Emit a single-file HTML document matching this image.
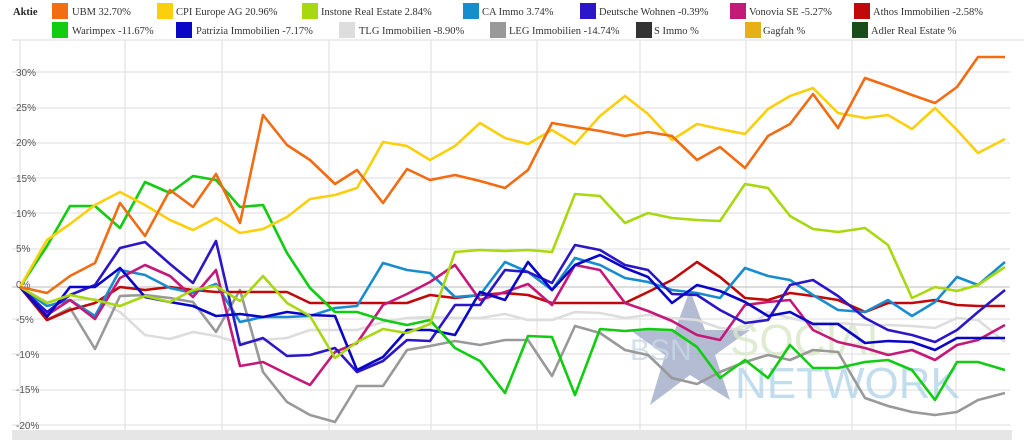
<!DOCTYPE html>
<html><head><meta charset="utf-8"><style>
body{margin:0;width:1024px;height:440px;background:#fff;overflow:hidden;font-family:"Liberation Sans",sans-serif}
</style></head><body>
<svg width="1024" height="440" xmlns="http://www.w3.org/2000/svg" font-family="Liberation Sans, sans-serif">
<g font-size="10.5" fill="#333" font-family="Liberation Serif, serif" xml:space="preserve">
<text x="13" y="15" font-weight="bold" fill="#222">Aktie</text>
<rect x="52" y="3" width="16" height="16" fill="#f26c13"/><text x="72" y="15">UBM  32.70%</text>
<rect x="157" y="3" width="16" height="16" fill="#fccf0d"/><text x="176" y="15">CPI Europe AG  20.96%</text>
<rect x="302" y="3" width="16" height="16" fill="#a8d80f"/><text x="321" y="15">Instone Real Estate  2.84%</text>
<rect x="463" y="3" width="16" height="16" fill="#178dcf"/><text x="482" y="15">CA Immo  3.74%</text>
<rect x="580" y="3" width="16" height="16" fill="#2b17c7"/><text x="599" y="15">Deutsche Wohnen  -0.39%</text>
<rect x="730" y="3" width="16" height="16" fill="#c5197a"/><text x="749" y="15">Vonovia SE  -5.27%</text>
<rect x="854" y="3" width="16" height="16" fill="#c10909"/><text x="873" y="15">Athos Immobilien  -2.58%</text>
<rect x="52" y="22" width="16" height="16" fill="#12cc12"/><text x="72" y="34">Warimpex  -11.67%</text>
<rect x="176" y="22" width="16" height="16" fill="#0a06c8"/><text x="196" y="34">Patrizia Immobilien  -7.17%</text>
<rect x="339" y="22" width="16" height="16" fill="#dddddd"/><text x="359" y="34">TLG Immobilien  -8.90%</text>
<rect x="490" y="22" width="16" height="16" fill="#999999"/><text x="509" y="34">LEG Immobilien  -14.74%</text>
<rect x="636" y="22" width="16" height="16" fill="#333333"/><text x="654" y="34">S Immo  %</text>
<rect x="745" y="22" width="16" height="16" fill="#e8b018"/><text x="763" y="34">Gagfah  %</text>
<rect x="852" y="22" width="16" height="16" fill="#1b4d1b"/><text x="871" y="34">Adler Real Estate  %</text>
</g>
<line x1="12" y1="40" x2="1024" y2="40" stroke="#ddd"/>
<g stroke="#ddd" stroke-width="1">
<line x1="20" y1="40" x2="20" y2="430"/><line x1="125" y1="40" x2="125" y2="430"/><line x1="222" y1="40" x2="222" y2="430"/><line x1="329" y1="40" x2="329" y2="430"/><line x1="431" y1="40" x2="431" y2="430"/><line x1="537" y1="40" x2="537" y2="430"/><line x1="640" y1="40" x2="640" y2="430"/><line x1="746" y1="40" x2="746" y2="430"/><line x1="852" y1="40" x2="852" y2="430"/><line x1="956" y1="40" x2="956" y2="430"/>
<line x1="12" y1="72" x2="1010" y2="72"/><line x1="12" y1="108" x2="1010" y2="108"/><line x1="12" y1="143" x2="1010" y2="143"/><line x1="12" y1="178" x2="1010" y2="178"/><line x1="12" y1="213" x2="1010" y2="213"/><line x1="12" y1="249" x2="1010" y2="249"/><line x1="12" y1="287" x2="1010" y2="287" stroke="#bbb"/><line x1="12" y1="319" x2="1010" y2="319"/><line x1="12" y1="354" x2="1010" y2="354"/><line x1="12" y1="390" x2="1010" y2="390"/><line x1="12" y1="425" x2="1010" y2="425"/>
</g>
<g font-size="10" fill="#555">
<text x="16" y="76">30%</text><text x="16" y="111">25%</text><text x="16" y="146">20%</text><text x="16" y="182">15%</text><text x="16" y="217">10%</text><text x="16" y="252">5%</text><text x="16" y="288">0%</text><text x="16" y="323">-5%</text><text x="16" y="358">-10%</text><text x="16" y="393">-15%</text><text x="16" y="429">-20%</text>
</g>
<rect x="12" y="430" width="1000" height="10" fill="#e6e6e6"/>
<polygon points="690,290 705,330 750,330 715,355 730,400 690,375 650,405 665,355 630,330 675,330" fill="#9aa6c4" opacity="0.75"/>
<text x="630" y="360" font-size="30" fill="#c8d8e8" opacity="0.8">BSN</text>
<text x="730" y="355" font-size="44" fill="#d8e8c8" opacity="0.8">SOCIAL</text>
<text x="735" y="398" font-size="44" fill="#a8d0e8" opacity="0.7">NETWORK</text>
<g fill="none" stroke-width="2.6" stroke-linejoin="round">
<polyline stroke="#dddddd" points="20,287 47,302 70,300 95,299 120,312 145,335 170,339 193,332 216,336 240,343 263,340 287,338 310,330 335,330 357,330 383,322 407,318 430,317 455,318 480,318 505,314 528,320 552,320 575,312 600,313 625,318 648,315 672,318 697,320 720,328 745,330 768,312 790,318 813,323 838,323 865,325 888,325 912,326 935,328 957,318 978,320 1005,342"/>
<polyline stroke="#999999" points="20,287 47,320 70,308 95,349 120,296 145,295 170,298 193,302 216,332 240,290 263,372 287,402 310,415 335,422 357,386 383,386 407,350 430,346 455,341 480,345 505,340 528,340 552,376 575,326 600,333 625,350 648,355 672,378 697,384 720,372 745,362 768,355 790,360 813,350 838,352 865,398 888,406 912,412 935,415 957,412 978,400 1005,393"/>
<polyline stroke="#c10909" points="20,287 47,320 70,310 95,303 120,287 145,290 170,287 193,290 216,292 240,292 263,292 287,292 310,303 335,303 357,303 383,303 407,303 430,295 455,298 480,295 505,293 528,295 552,303 575,303 600,303 625,303 648,292 672,280 697,262 720,277 745,298 768,300 790,293 813,296 838,300 865,312 888,303 912,303 935,300 957,305 978,306 1005,306"/>
<polyline stroke="#178dcf" points="20,287 47,306 70,300 95,316 120,270 145,275 170,288 193,293 216,284 240,322 263,317 287,317 310,316 335,308 357,306 383,263 407,270 430,273 455,297 480,295 505,262 528,272 552,290 575,258 600,265 625,278 648,282 672,290 697,293 720,298 745,268 768,276 790,280 813,295 838,310 865,312 888,300 912,316 935,302 957,277 978,285 1005,262"/>
<polyline stroke="#c5197a" points="20,287 47,315 70,300 95,319 120,278 145,265 170,276 193,297 216,270 240,366 263,362 287,374 310,385 335,352 357,343 383,305 407,294 430,282 455,265 480,300 505,292 528,284 552,305 575,265 600,270 625,303 648,311 672,321 697,335 720,340 745,305 768,302 790,300 813,330 838,342 865,348 888,355 912,350 935,360 957,345 978,340 1005,325"/>
<polyline stroke="#2b17c7" points="20,287 47,312 70,295 95,285 120,248 145,242 170,264 193,283 216,241 240,345 263,338 287,356 310,355 335,348 357,372 383,361 407,340 430,341 455,305 480,305 505,270 528,272 552,283 575,245 600,250 625,265 648,270 672,294 697,295 720,310 745,323 768,320 790,285 813,280 838,296 865,318 888,330 912,335 935,342 957,330 978,312 1005,290"/>
<polyline stroke="#0a06c8" points="20,287 47,317 70,287 95,287 120,268 145,297 170,302 193,306 216,316 240,314 263,317 287,312 310,315 335,316 357,370 383,357 407,330 430,330 455,335 480,292 505,300 528,262 552,290 575,265 600,255 625,268 648,277 672,303 697,285 720,291 745,302 768,316 790,312 813,324 838,324 865,343 888,341 912,342 935,350 957,338 978,338 1005,338"/>
<polyline stroke="#12cc12" points="20,287 47,246 70,206 95,206 120,228 145,182 170,193 193,176 216,180 240,207 263,205 287,253 310,288 335,312 357,312 383,320 407,325 430,320 455,348 480,361 505,393 528,336 552,337 575,395 600,329 625,331 648,329 672,330 697,347 720,378 745,360 768,378 790,345 813,368 838,368 865,362 888,360 912,370 935,400 957,362 978,362 1005,370"/>
<polyline stroke="#a8d80f" points="20,287 47,303 70,295 95,300 120,306 145,296 170,302 193,290 216,286 240,301 263,276 287,303 310,316 335,358 357,342 383,329 407,333 430,324 455,252 480,250 505,251 528,250 552,252 575,194 600,196 625,223 648,213 672,218 697,220 720,221 745,184 768,188 790,216 813,229 838,232 865,228 888,245 912,298 935,287 957,291 978,285 1005,267"/>
<polyline stroke="#fccf0d" points="20,287 47,240 70,224 95,205 120,192 145,205 170,220 193,230 216,218 240,233 263,229 287,217 310,199 335,195 357,188 383,142 407,146 430,160 455,146 480,123 505,138 528,144 552,130 575,144 600,116 625,96 648,114 672,140 697,124 720,129 745,134 768,109 790,96 813,88 838,113 865,118 888,115 912,129 935,108 957,130 978,153 1005,139"/>
<polyline stroke="#f26c13" points="20,287 47,293 70,276 95,263 120,203 145,236 170,190 193,207 216,174 240,223 263,115 287,145 310,160 335,184 357,170 383,203 407,169 430,180 455,175 480,181 505,188 528,170 552,123 575,127 600,131 625,136 648,132 672,136 697,160 720,147 745,168 768,136 790,124 813,94 838,128 865,78 888,86 912,95 935,103 957,87 978,57 1005,57"/>
</g>
</svg>
</body></html>
